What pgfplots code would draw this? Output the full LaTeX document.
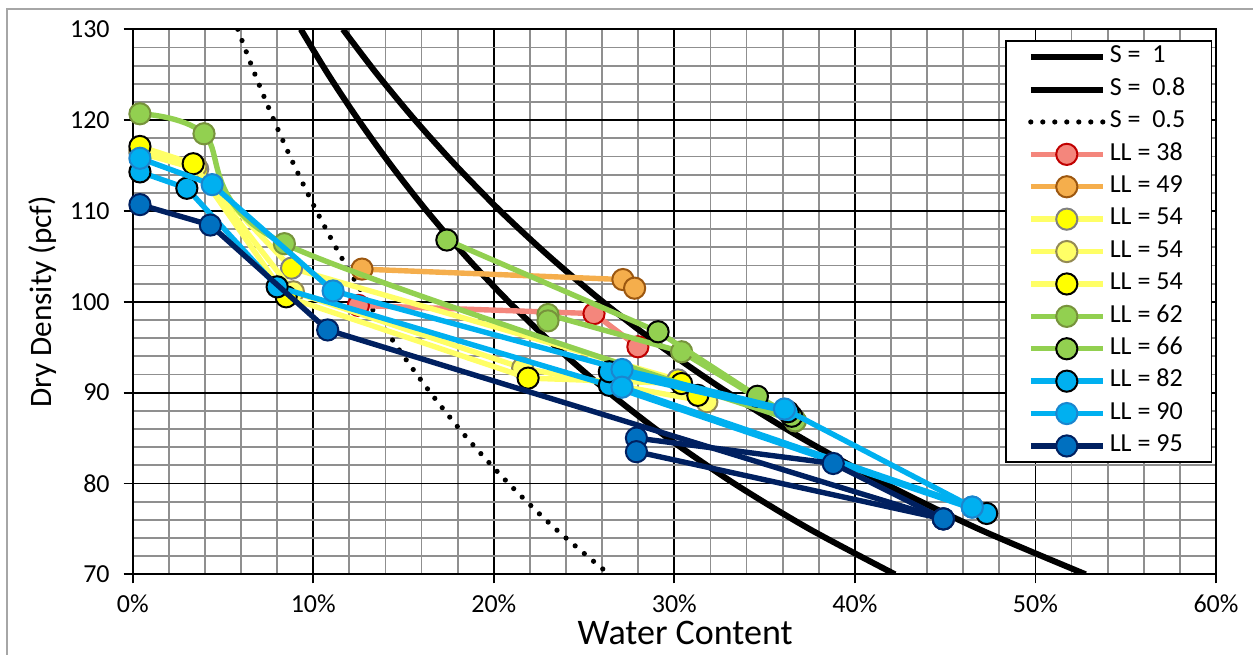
\documentclass[border=0pt]{standalone}
\usepackage{pgfplots}
\pgfplotsset{compat=1.18}
\usepackage{fontspec}
\setmainfont{Carlito}

% series colours
\definecolor{salmonln}{HTML}{F4867C}
\definecolor{rededge}{HTML}{C00000}
\definecolor{orangeln}{HTML}{F5AE4C}
\definecolor{brownedge}{HTML}{9C5710}
\definecolor{yellowln}{HTML}{FFFF66}
\definecolor{yellowmk}{HTML}{FFFF00}
\definecolor{grayedge}{HTML}{808080}
\definecolor{oliveedge}{HTML}{948A54}
\definecolor{greenln}{HTML}{92D050}
\definecolor{greenedge}{HTML}{77933C}
\definecolor{cyanln}{HTML}{00B0F0}
\definecolor{blueedge}{HTML}{1A86CF}
\definecolor{navyln}{HTML}{002060}
\definecolor{navymk}{HTML}{0070C0}
\definecolor{gridgray}{HTML}{8F8F8F}
\definecolor{framegray}{HTML}{A6A6A6}

\pgfplotsset{
  ll/.style n args={3}{line width=2.7pt, color=#1,
    mark=*, mark size=5.3pt,
    mark options={fill=#2, draw=#3, line width=1pt, solid}},
  sat/.style={smooth, black, line width=3pt},
}

\begin{document}
\begin{tikzpicture}
\path[use as bounding box] (0,0) rectangle (626.5pt,327pt);
\draw[framegray, line width=1pt] (3.5pt,-5pt) -- (3.5pt,322.35pt) -- (632pt,322.35pt);
\begin{axis}[
  at={(66.35pt,39.85pt)}, anchor=south west,
  scale only axis, width=541.65pt, height=272.5pt,
  xmin=0, xmax=60, ymin=70, ymax=130,
  xtick={0,10,...,60},
  xticklabels={0\%,10\%,20\%,30\%,40\%,50\%,60\%},
  ytick={70,80,...,130},
  minor x tick num=4, minor y tick num=4,
  grid=both,
  major grid style={black, line width=0.9pt},
  minor grid style={gridgray, line width=0.9pt},
  minor tick length=0pt,
  major tick length=4.5pt,
  tick align=outside,
  xtick pos=bottom, ytick pos=left,
  tick style={black, line width=0.9pt},
  axis line style={black, line width=0.9pt},
  /pgf/number format/assume math mode=true,
  tick label style={font=\fontsize{13}{15}\selectfont, text=black},
  xticklabel style={yshift=-2pt},
  yticklabel style={xshift=-3.5pt},
  xlabel={Water Content},
  ylabel={Dry Density (pcf)},
  xlabel style={font=\fontsize{18}{21}\selectfont, at={(axis description cs:0.51,-0.128)}, anchor=base},
  ylabel style={font=\fontsize{15.6}{18}\selectfont, at={(axis description cs:-0.0754,0.5)}, anchor=base},
  clip mode=individual,
  legend cell align=left,
  legend image code/.code={
    \draw[mark repeat=2, mark phase=2, #1] plot coordinates {(0pt,0pt) (18pt,0pt) (36pt,0pt)};},
  legend style={at={(axis description cs:0.9963,0.980)}, anchor=north east,
    draw=black, line width=0.75pt, fill=white,
    font=\fontsize{13}{15}\selectfont,
    inner xsep=11pt, inner ysep=0pt, row sep=0pt,
    nodes={inner xsep=2pt, inner ysep=2pt, text height=9pt, text depth=3.2pt}},
]

% saturation lines, Gs = 2.75
\addplot[sat] coordinates {(11.64,130) (13.56,125) (15.64,120) (17.90,115) (20.36,110) (23.07,105) (26.04,100) (29.32,95) (32.97,90) (37.05,85) (41.64,80) (46.84,75) (52.78,70)};
\addlegendentry{S =\ \ 1}
\addplot[sat] coordinates {(9.31,130) (10.84,125) (12.51,120) (14.32,115) (16.29,110) (18.45,105) (20.83,100) (23.46,95) (26.38,90) (29.64,85) (33.31,80) (37.47,75) (42.22,70)};
\addlegendentry{S =\ \ 0.8}
\addplot[smooth, black, line width=2.6pt, line cap=round, dash pattern=on 0pt off 6pt] coordinates {(5.82,130) (6.78,125) (7.82,120) (8.95,115) (10.18,110) (11.53,105) (13.02,100) (14.66,95) (16.49,90) (18.52,85) (20.82,80) (23.42,75) (26.39,70)};
\addlegendentry{S =\ \ 0.5}

% compaction curves
\addplot[ll={salmonln}{salmonln}{rededge}] coordinates {(12.5,99.6) (25.55,98.7) (27.98,95.05)};
\addlegendentry{LL = 38}
\addplot[ll={orangeln}{orangeln}{brownedge}] coordinates {(12.7,103.6) (27.15,102.45) (27.8,101.5)};
\addlegendentry{LL = 49}
\addplot[ll={yellowln}{yellowmk}{grayedge}] coordinates {(0.4,116.4) (3.6,114.6) (8.8,103.7) (30.2,91.4)};
\addlegendentry{LL = 54}
\addplot[ll={yellowln}{yellowln}{oliveedge}] coordinates {(0.4,116.7) (3.5,114.9) (8.9,101.1) (21.6,92.7) (31.8,89.0)};
\addlegendentry{LL = 54}
\addplot[ll={yellowln}{yellowmk}{black}] coordinates {(0.4,117.1) (3.35,115.2) (8.5,100.55) (21.9,91.6) (30.4,91.0) (31.3,89.7)};
\addlegendentry{LL = 54}
\addplot[ll={greenln}{greenln}{greenedge}, smooth, tension=0.5] coordinates {(0.4,120.7) (3.95,118.5) (8.4,106.4) (36.7,86.9)};
\addlegendentry{LL = 62}
\addplot[ll={greenln}{greenln}{greenedge}, forget plot] coordinates {(23.0,98.6) (30.4,94.5) (36.7,86.9)};
\addplot[ll={greenln}{greenln}{greenedge}, forget plot, only marks] coordinates {(23.0,97.9)};
\addplot[ll={greenln}{greenln}{black}] coordinates {(17.4,106.8) (29.1,96.7) (34.6,89.6) (36.5,87.4)};
\addlegendentry{LL = 66}
\addplot[ll={cyanln}{cyanln}{black}] coordinates {(0.4,114.3) (3.0,112.5) (8.0,101.65) (26.4,90.8) (47.3,76.7)};
\addlegendentry{LL = 82}
\addplot[ll={cyanln}{cyanln}{black}, forget plot] coordinates {(26.4,92.3) (36.3,87.9)};
\addplot[ll={cyanln}{cyanln}{blueedge}] coordinates {(0.4,115.8) (4.4,112.9) (11.1,101.2) (27.1,92.55) (36.1,88.2) (46.5,77.4)};
\addlegendentry{LL = 90}
\addplot[ll={cyanln}{cyanln}{blueedge}, forget plot] coordinates {(27.1,90.6) (46.5,77.4)};
\addplot[ll={navyln}{navymk}{navyln}] coordinates {(0.4,110.7) (4.3,108.45) (10.8,96.9) (44.9,76.1)};
\addlegendentry{LL = 95}
\addplot[ll={navyln}{navymk}{navyln}, forget plot] coordinates {(27.9,85.0) (38.8,82.2) (44.9,76.1)};
\addplot[ll={navyln}{navymk}{navyln}, forget plot] coordinates {(27.9,83.5) (44.9,76.1)};
\end{axis}
\end{tikzpicture}
\end{document}
